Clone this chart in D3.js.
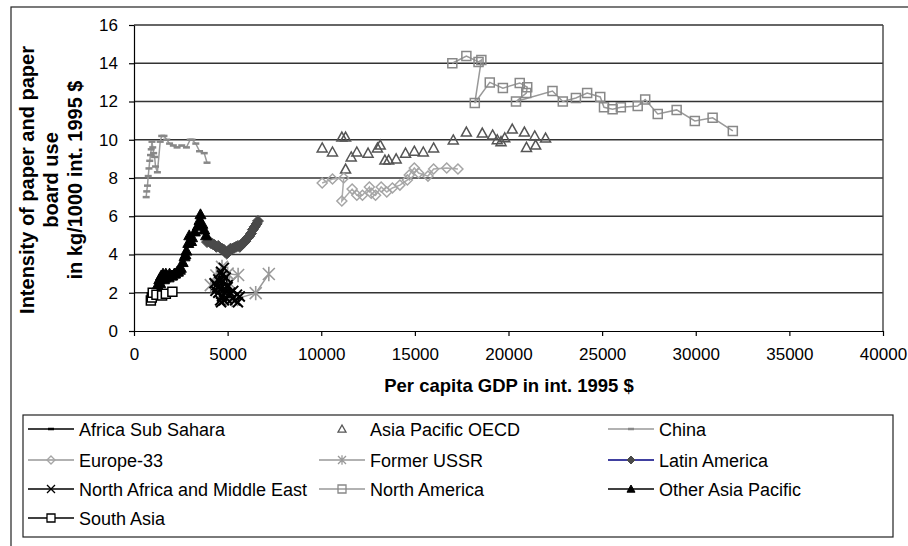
<!DOCTYPE html>
<html>
<head>
<meta charset="utf-8">
<script src="https://cdn.jsdelivr.net/npm/d3@7"></script>
<style>
body { margin: 0; background: #fff; }
text { font-family: "Liberation Sans", Arial, sans-serif; fill: #000; }
</style>
</head>
<body>
<div id="chart"></div>
<script>
const svgWidth = 908;
const svgHeight = 546;
const plotLeft = 134, plotRight = 883, plotTop = 25, plotBottom = 331;

// tick values
const xTicks = [0, 5000, 10000, 15000, 20000, 25000, 30000, 35000, 40000];
const yTicks = [0, 2, 4, 6, 8, 10, 12, 14, 16];

// series values (per capita GDP, intensity)
const africaX = [1750, 1700, 1650, 1600, 1580, 1550, 1500, 1480, 1450];
const africaY = [2.6, 2.7, 2.8, 2.75, 2.9, 2.85, 2.7, 2.6, 2.55];

const apOecdX = [10050, 10600, 11100, 11300, 11300, 11600, 11900, 12500, 13000, 13150, 13400, 13600, 14000, 14500, 14970, 15450, 16000, 17050, 17750, 18600, 19150, 19400, 19600, 19800, 20200, 20850, 20960, 21400, 21450, 21980];
const apOecdY = [9.57, 9.36, 10.14, 10.14, 8.47, 9.1, 9.36, 9.3, 9.57, 9.72, 8.94, 8.94, 9.0, 9.3, 9.4, 9.36, 9.57, 9.99, 10.4, 10.35, 10.25, 10.0, 9.9, 10.1, 10.56, 10.4, 9.6, 10.2, 9.72, 10.09];

const chinaX = [650, 680, 720, 760, 800, 840, 880, 920, 960, 1000, 1050, 1100, 1150, 1250, 1400, 1480, 1600, 1750, 1900, 2100, 2300, 2550, 2800, 3000, 3100, 3300, 3500, 3750, 3900];
const chinaY = [7.0, 7.3, 7.6, 8.1, 8.5, 8.9, 9.2, 9.5, 9.9, 9.6, 9.3, 9.1, 8.6, 8.3, 9.9, 10.2, 10.2, 10.0, 9.8, 9.7, 9.6, 9.7, 9.6, 10.0, 10.0, 9.8, 9.4, 9.3, 8.8];

const europeX = [10050, 10600, 11200, 11100, 11650, 11900, 12200, 12570, 12670, 12900, 13200, 13500, 13800, 14200, 14600, 14700, 14970, 15200, 15700, 16000, 16700, 17300];
const europeY = [7.74, 7.95, 8.0, 6.8, 7.42, 7.1, 7.1, 7.53, 7.2, 7.1, 7.53, 7.27, 7.48, 7.63, 7.9, 8.16, 8.52, 8.26, 8.1, 8.47, 8.52, 8.47];

const ussrX = [4100, 4400, 4700, 5000, 5560, 5100, 4800, 4900, 5240, 6500, 7200];
const ussrY = [2.4, 2.9, 3.35, 3.0, 2.93, 2.5, 2.0, 1.7, 1.62, 1.98, 2.98];

const latinX = [3900, 4000, 4100, 4200, 4300, 4400, 4500, 4600, 4700, 4800, 4850, 4950, 5000, 5050, 5150, 5250, 5350, 5450, 5550, 5650, 5750, 5850, 5950, 6050, 6150, 6250, 6350, 6450, 6550, 6620];
const latinY = [4.65, 4.7, 4.6, 4.55, 4.5, 4.4, 4.45, 4.35, 4.3, 4.25, 4.15, 4.05, 4.1, 4.2, 4.3, 4.3, 4.35, 4.4, 4.45, 4.4, 4.55, 4.6, 4.7, 4.85, 4.95, 5.1, 5.3, 5.45, 5.6, 5.75];

const nameX = [4300, 4400, 4500, 4650, 4800, 4700, 4550, 4450, 4350, 4500, 4600, 4750, 4900, 5000, 4850, 4700, 4600, 4650, 4800, 4950, 5100, 5250, 5400, 5550, 5650, 5500, 5300, 5150, 5000, 4850];
const nameY = [2.5, 2.4, 2.7, 3.1, 3.3, 2.9, 2.6, 2.3, 2.1, 2.0, 2.2, 2.6, 2.8, 2.4, 2.0, 1.8, 1.6, 1.5, 1.6, 1.7, 1.9, 1.7, 1.6, 1.5, 1.8, 1.9, 2.1, 2.0, 2.3, 2.2];

const northAmX = [17000, 17750, 18400, 18550, 18200, 19000, 19700, 20600, 21000, 20950, 20400, 22350, 22900, 23600, 24200, 24900, 25100, 25560, 26000, 26900, 27300, 27970, 28980, 29950, 30900, 31980];
const northAmY = [14.0, 14.38, 14.07, 14.17, 11.92, 13.0, 12.7, 12.97, 12.75, 12.44, 12.0, 12.55, 12.0, 12.18, 12.44, 12.24, 11.7, 11.6, 11.7, 11.76, 12.1, 11.35, 11.56, 10.98, 11.15, 10.46];

const otherApX = [1250, 1300, 1350, 1400, 1450, 1500, 1550, 1600, 1650, 1700, 1750, 1850, 1900, 2000, 2050, 2150, 2200, 2300, 2350, 2450, 2500, 2600, 2700, 2750, 2800, 2900, 2950, 3050, 3100, 3250, 3400, 3500, 3550, 3650, 3750, 3850];
const otherApY = [2.4, 2.3, 2.7, 2.5, 2.9, 2.8, 3.0, 2.7, 2.8, 3.0, 2.9, 2.8, 3.0, 2.9, 2.9, 3.0, 3.0, 3.1, 3.1, 3.2, 3.3, 3.6, 3.9, 4.0, 4.2, 4.6, 5.0, 4.7, 4.9, 5.2, 5.5, 5.8, 6.1, 5.6, 5.3, 5.0];

const southAsiaX = [900, 950, 1000, 1200, 1500, 1700, 2050];
const southAsiaY = [1.6, 1.75, 2.0, 1.9, 1.85, 1.95, 2.05];

const seriesNames = ["Africa Sub Sahara", "Asia Pacific OECD", "China", "Europe-33", "Former USSR",
    "Latin America", "North Africa and Middle East", "North America", "Other Asia Pacific", "South Asia"];
const seriesX = [africaX, apOecdX, chinaX, europeX, ussrX, latinX, nameX, northAmX, otherApX, southAsiaX];
const seriesY = [africaY, apOecdY, chinaY, europeY, ussrY, latinY, nameY, northAmY, otherApY, southAsiaY];

// drawing styles, one per series
const styles = [
    { line: "#000", marker: "dash", mStroke: "#000", mFill: "none", s: 3.5, sw: 3 },
    { line: null, marker: "triangle", mStroke: "#555", mFill: "none", s: 5, sw: 1.5 },
    { line: "#999", marker: "dash", mStroke: "#888", mFill: "none", s: 3.5, sw: 2.5 },
    { line: "#aaa", marker: "diamond", mStroke: "#a5a5a5", mFill: "none", s: 5, sw: 1.5 },
    { line: "#999", marker: "asterisk", mStroke: "#999", mFill: "none", s: 6, sw: 1.6 },
    { line: "#000080", marker: "diamond", mStroke: "#4a4a4a", mFill: "#4a4a4a", s: 5.5, sw: 1 },
    { line: "#000", marker: "x", mStroke: "#000", mFill: "none", s: 5, sw: 2 },
    { line: "#999", marker: "square", mStroke: "#888", mFill: "none", s: 4.5, sw: 1.5 },
    { line: "#000", marker: "triangle", mStroke: "#000", mFill: "#000", s: 5.5, sw: 1 },
    { line: "#000", marker: "square", mStroke: "#000", mFill: "#fff", s: 4.5, sw: 1.5 }
];

function markerPath(type, s) {
    if (type === "square") return `M${-s},${-s}h${2 * s}v${2 * s}h${-2 * s}Z`;
    if (type === "diamond") return `M0,${-s}L${s},0L0,${s}L${-s},0Z`;
    if (type === "triangle") return `M0,${-s}L${s},${s * 0.8}L${-s},${s * 0.8}Z`;
    if (type === "x") return `M${-s},${-s}L${s},${s}M${-s},${s}L${s},${-s}`;
    if (type === "asterisk") return `M${-s},${-s}L${s},${s}M${-s},${s}L${s},${-s}M0,${-s * 1.2}V${s * 1.2}`;
    return `M${-s},0H${s}`;
}

const xScale = d3.scaleLinear().domain([0, 40000]).range([plotLeft, plotRight]);
const yScale = d3.scaleLinear().domain([0, 16]).range([plotBottom, plotTop]);

const svg = d3.select("#chart")
    .append("svg")
    .attr("width", svgWidth)
    .attr("height", svgHeight);

// outer frame
svg.append("rect")
    .attr("x", 11).attr("y", 7)
    .attr("width", 1000).attr("height", 1000)
    .attr("fill", "none").attr("stroke", "#222").attr("stroke-width", 1.2);

// gridlines
svg.append("g")
    .selectAll("line")
    .data(yTicks.filter(d => d > 0))
    .enter()
    .append("line")
    .attr("x1", plotLeft).attr("x2", plotRight)
    .attr("y1", d => yScale(d)).attr("y2", d => yScale(d))
    .attr("stroke", "#333").attr("stroke-width", 1.4);

// right border
svg.append("line")
    .attr("x1", plotRight).attr("x2", plotRight)
    .attr("y1", plotTop).attr("y2", plotBottom)
    .attr("stroke", "#444").attr("stroke-width", 1.4);

// axes
const xAxis = d3.axisBottom(xScale).tickValues(xTicks).tickSize(5).tickSizeOuter(0).tickFormat(d3.format("d"));
const yAxis = d3.axisLeft(yScale).tickValues(yTicks).tickSize(5).tickSizeOuter(0);

svg.append("g")
    .attr("transform", `translate(0, ${plotBottom})`)
    .call(xAxis)
    .call(g => g.selectAll("text").attr("font-size", 17).attr("dy", "0.3em").attr("y", 24)
        .style("font-family", '"Liberation Sans", Arial, sans-serif'))
    .call(g => g.selectAll("line, path").attr("stroke", "#000").attr("stroke-width", 1.2));

svg.append("g")
    .attr("transform", `translate(${plotLeft}, 0)`)
    .call(yAxis)
    .call(g => g.selectAll("text").attr("font-size", 17).attr("x", -16)
        .style("font-family", '"Liberation Sans", Arial, sans-serif'))
    .call(g => g.selectAll("line, path").attr("stroke", "#000").attr("stroke-width", 1.2));

// series
const line = d3.line().x(d => xScale(d[0])).y(d => yScale(d[1]));

seriesNames.forEach((name, i) => {
    const pts = seriesX[i].map((x, j) => [x, seriesY[i][j]]);
    const st = styles[i];
    const g = svg.append("g").attr("class", "series");
    if (st.line) {
        g.append("path")
            .datum(pts)
            .attr("d", line)
            .attr("fill", "none")
            .attr("stroke", st.line)
            .attr("stroke-width", 1.5);
    }
    g.selectAll("path.mk")
        .data(pts)
        .enter()
        .append("path")
        .attr("class", "mk")
        .attr("transform", d => `translate(${xScale(d[0])}, ${yScale(d[1])})`)
        .attr("d", markerPath(st.marker, st.s))
        .attr("fill", st.mFill)
        .attr("stroke", st.mStroke)
        .attr("stroke-width", st.sw);
});

// axis titles
svg.append("text")
    .attr("x", 509).attr("y", 392)
    .attr("text-anchor", "middle")
    .attr("font-size", 18.5)
    .attr("font-weight", "bold")
    .text("Per capita GDP in int. 1995 $");

const yTitle = ["Intensity of paper and paper", "board use", "in kg/1000 int. 1995 $"];
svg.append("g")
    .selectAll("text")
    .data(yTitle)
    .enter()
    .append("text")
    .attr("transform", (d, i) => `translate(${34 + i * 24}, 180) rotate(-90)`)
    .attr("text-anchor", "middle")
    .attr("font-size", 20)
    .attr("font-weight", "bold")
    .text(d => d);

// legend
svg.append("rect")
    .attr("x", 23).attr("y", 415)
    .attr("width", 870).attr("height", 122)
    .attr("fill", "#fff").attr("stroke", "#222").attr("stroke-width", 1.2);

const legendCols = [28, 319, 608];
const legendRows = [429, 460, 489, 518];
const legendLineLen = 46;

seriesNames.forEach((name, i) => {
    const st = styles[i];
    const x0 = legendCols[i % 3];
    const y0 = legendRows[Math.floor(i / 3)];
    const g = svg.append("g").attr("transform", `translate(${x0}, ${y0})`);
    if (st.line) {
        g.append("line")
            .attr("x1", 0).attr("x2", legendLineLen)
            .attr("stroke", st.line === "#aaa" ? "#999" : st.line)
            .attr("stroke-width", 1.5);
    }
    g.append("path")
        .attr("transform", `translate(${legendLineLen / 2}, 0)`)
        .attr("d", markerPath(st.marker, st.marker === "dash" ? 3 : 4))
        .attr("fill", st.mFill)
        .attr("stroke", st.mStroke)
        .attr("stroke-width", st.marker === "dash" ? 2.5 : Math.min(st.sw, 1.3));
    g.append("text")
        .attr("x", legendLineLen + 5)
        .attr("y", 6.5)
        .attr("font-size", 18)
        .text(name);
});
</script>
</body>
</html>
